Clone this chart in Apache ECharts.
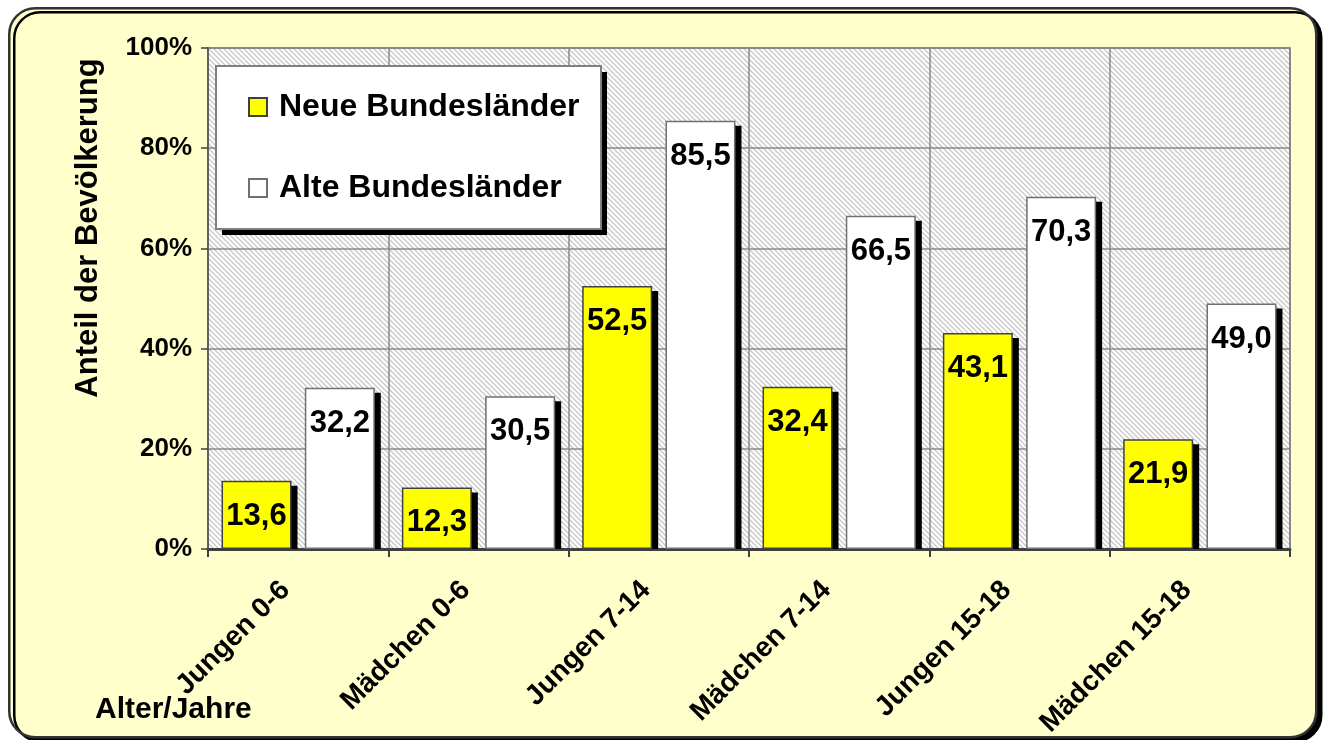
<!DOCTYPE html>
<html>
<head>
<meta charset="utf-8">
<script src="https://cdn.jsdelivr.net/npm/echarts@6/dist/echarts.min.js"></script>
<style>
html,body{margin:0;padding:0;background:#ffffff;}
#chart{width:1327px;height:740px;}
</style>
</head>
<body>
<div id="chart"></div>
<script>
const categories = ['Jungen 0-6', 'Mädchen 0-6', 'Jungen 7-14', 'Mädchen 7-14', 'Jungen 15-18', 'Mädchen 15-18'];
const seriesNames = ['Neue Bundesländer', 'Alte Bundesländer'];
const neueValues = [13.6, 12.3, 52.5, 32.4, 43.1, 21.9];
const alteValues = [32.2, 30.5, 85.5, 66.5, 70.3, 49.0];
const yTicks = [0, 20, 40, 60, 80, 100];

const FONT = 'Arial, "Liberation Sans", sans-serif';
const CAT_GAP = 0.15, BAR_GAP = 0.19;

// hatch pattern for plot background
const tile = document.createElement('canvas');
tile.width = 5; tile.height = 5;
const tc = tile.getContext('2d');
tc.fillStyle = '#ffffff';
tc.fillRect(0, 0, 5, 5);
tc.strokeStyle = '#c8c8c8';
tc.lineWidth = 1.3;
for (let k = -1; k <= 1; k++) {
  tc.beginPath();
  tc.moveTo(-1, k * 5 - 1);
  tc.lineTo(6, k * 5 + 6);
  tc.stroke();
}

const shadowData = [];
neueValues.forEach((v, i) => shadowData.push([i, v, 0]));
alteValues.forEach((v, i) => shadowData.push([i, v, 1]));

function fmt(p) { return Number(p.value).toFixed(1).replace('.', ','); }

const chart = echarts.init(document.getElementById('chart'), null, {renderer: 'canvas'});
chart.setOption({
  animation: false,
  backgroundColor: '#ffffff',
  textStyle: {fontFamily: FONT},
  graphic: [
    {type: 'rect', z: -10, left: 8, top: 7,
     shape: {width: 1307, height: 729, r: 26},
     style: {fill: '#FFFFCC', stroke: '#333333', lineWidth: 2.5,
             shadowColor: '#000000', shadowOffsetX: 5, shadowOffsetY: 4, shadowBlur: 0}},
    // legend box (fill with shadow, then border)
    {type: 'rect', z: 3, x: 216, y: 66,
     shape: {width: 385, height: 163},
     style: {fill: '#ffffff', shadowColor: '#000000', shadowOffsetX: 6, shadowOffsetY: 6, shadowBlur: 0}},
    {type: 'rect', z: 3, x: 216, y: 66,
     shape: {width: 385, height: 163},
     style: {fill: null, stroke: '#808080', lineWidth: 2}},
    {type: 'text', z: 5, x: 88, y: 228, rotation: Math.PI / 2,
     style: {text: 'Anteil der Bevölkerung', fill: '#000', font: 'bold 31px ' + FONT,
             textAlign: 'center', textVerticalAlign: 'middle'}},
    {type: 'text', z: 5, x: 95, y: 710,
     style: {text: 'Alter/Jahre', fill: '#000', font: 'bold 30px ' + FONT,
             textAlign: 'left', textVerticalAlign: 'middle'}}
  ],
  grid: {left: 208, top: 48, right: 37, bottom: 191, show: true,
         backgroundColor: {image: tile, repeat: 'repeat'},
         borderColor: '#606060', borderWidth: 1.5},
  legend: {
    data: seriesNames, orient: 'vertical', left: 248, top: 91, z: 6,
    padding: 0, itemGap: 49, itemWidth: 18, itemHeight: 18,
    icon: 'rect', selectedMode: false,
    textStyle: {fontSize: 32, fontWeight: 'bold', color: '#000', lineHeight: 32,
                padding: [0, 0, 0, 7], fontFamily: FONT}
  },
  xAxis: {
    type: 'category', data: categories,
    axisLine: {lineStyle: {color: '#404040', width: 3}},
    axisTick: {show: true, length: 8, lineStyle: {color: '#404040', width: 2}},
    splitLine: {show: true, lineStyle: {color: '#8a8a8a', width: 1.5}},
    axisLabel: {interval: 0, rotate: 45, margin: 24, padding: [0, 18, 0, 0],
                fontSize: 28, fontWeight: 'bold', color: '#000', fontFamily: FONT}
  },
  yAxis: {
    type: 'value', min: yTicks[0], max: yTicks[yTicks.length - 1], interval: 20,
    axisLine: {show: true, lineStyle: {color: '#606060', width: 2}},
    axisTick: {show: true, length: 7, lineStyle: {color: '#404040', width: 1.5}},
    splitLine: {show: true, lineStyle: {color: '#8a8a8a', width: 1.5}},
    axisLabel: {formatter: '{value}%', margin: 16, fontSize: 26, fontWeight: 'bold',
                color: '#000', fontFamily: FONT}
  },
  series: [
    {
      name: 'shadow', type: 'custom', z: 1, silent: true,
      data: shadowData,
      renderItem: function (params, api) {
        const idx = api.value(0), v = api.value(1), s = api.value(2);
        const base = api.coord([idx, 0]);
        const band = api.size([1, 0])[0];
        const bw = band * (1 - CAT_GAP) / (2 + BAR_GAP);
        const left = base[0] - band * (1 - CAT_GAP) / 2 + s * bw * (1 + BAR_GAP);
        const top = api.coord([idx, v])[1];
        return {type: 'rect',
                shape: {x: left + 6, y: top + 5, width: bw, height: Math.max(0, base[1] - top - 5)},
                style: {fill: '#000000'}};
      }
    },
    {
      name: seriesNames[0], type: 'bar', z: 3, data: neueValues,
      barCategoryGap: (CAT_GAP * 100) + '%', barGap: (BAR_GAP * 100) + '%',
      itemStyle: {color: '#FFFF00', borderColor: '#404040', borderWidth: 1.5},
      label: {show: true, position: 'insideTop', distance: 20, formatter: fmt,
              fontSize: 31, fontWeight: 'bold', color: '#000', fontFamily: FONT}
    },
    {
      name: seriesNames[1], type: 'bar', z: 3, data: alteValues,
      barCategoryGap: (CAT_GAP * 100) + '%', barGap: (BAR_GAP * 100) + '%',
      itemStyle: {color: '#FFFFFF', borderColor: '#707070', borderWidth: 1.5},
      label: {show: true, position: 'insideTop', distance: 20, formatter: fmt,
              fontSize: 31, fontWeight: 'bold', color: '#000', fontFamily: FONT}
    }
  ]
});
</script>
</body>
</html>
